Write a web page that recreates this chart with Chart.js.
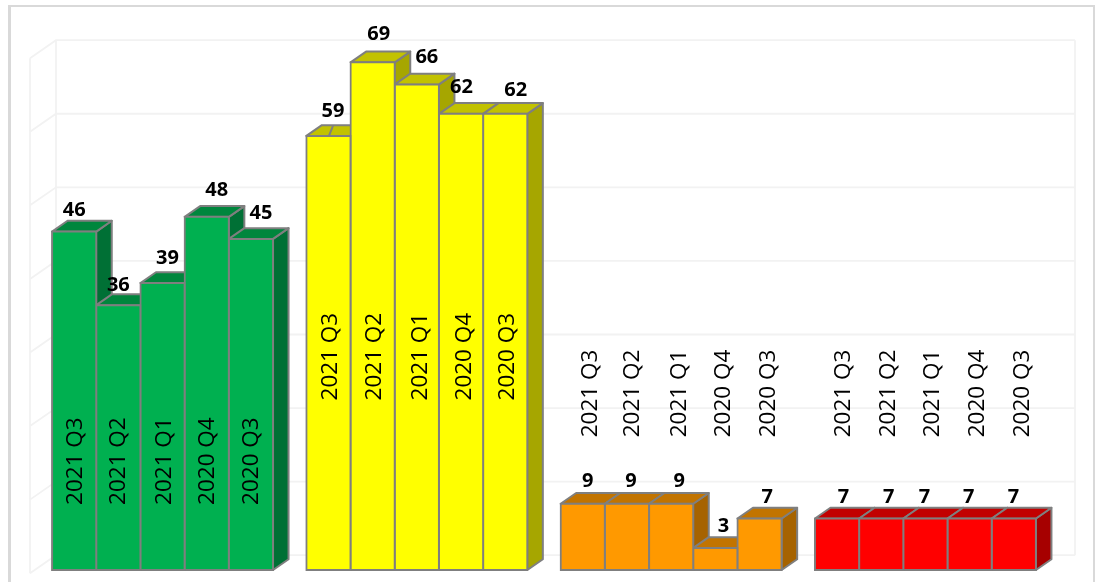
<!DOCTYPE html>
<html>
<head>
<meta charset="utf-8">
<style>
html,body{margin:0;padding:0;background:#fff;overflow:hidden;width:1104px;height:582px}
#frame{position:absolute;left:8px;top:5px;width:1082px;height:580px;border-left:3px solid #d9d9d9;border-top:2px solid #d9d9d9;border-right:2px solid #d9d9d9}
canvas{position:absolute;left:0;top:0}
</style>
<script src="https://cdn.jsdelivr.net/npm/chart.js@4/dist/chart.umd.min.js"></script>
</head>
<body>
<div id="frame"></div>
<canvas id="c" width="1104" height="582"></canvas>
<script>
const categories = ["Green", "Yellow", "Amber", "Red"];
const seriesNames = ["2021 Q3", "2021 Q2", "2021 Q1", "2020 Q4", "2020 Q3"];
const q3_2021 = [46, 59, 9, 7];
const q2_2021 = [36, 69, 9, 7];
const q1_2021 = [39, 66, 9, 7];
const q4_2020 = [48, 62, 3, 7];
const q3_2020 = [45, 62, 7, 7];
const seriesValues = [q3_2021, q2_2021, q1_2021, q4_2020, q3_2020];
const yTicks = [0, 10, 20, 30, 40, 50, 60, 70];

const frontColors = ["#00B050", "#FFFF00", "#FF9900", "#FF0000"];
const topColors   = ["#00863D", "#C2C200", "#C27400", "#C20000"];
const sideColors  = ["#007035", "#A6A600", "#A66300", "#A60000"];
const edgeColor = "#7F7F7F";
const gridColor = "#F2F2F2";

const depth = {dx: 15.5, dy: 10.8};
const wall = {left: 56, right: 1075, sideX: 30, sideDrop: 18};
const seriesLabelValue = [14.8, 29, 24, 24];
// label nudges [group][series]: horizontal shift, height above bar top
const valueNudge = [
  [[0,21],[0,20],[5,25],[10,27],[10,26]],
  [[4.5,25],[6,28],[10,27],[0.5,27],[10.5,24]],
  [[5,22],[4,22],[8,22],[8,22],[7.6,21]],
  [[6.5,21],[7.5,21],[-1,21],[-1,21],[-0.5,21]]
];
const seriesNudge = [
  [1,0.5,2.5,1,1],
  [2.5,2,4,3.5,2.5],
  [7.5,6,8.5,8,9],
  [6.5,7,7,8,8.5]
];

const box3d = {
  id: "box3d",
  beforeDatasetsDraw(chart) {
    const {ctx, scales: {y}} = chart;
    const backBase = y.getPixelForValue(0) - depth.dy - 4;
    ctx.save();
    // back wall and left wall grid
    ctx.strokeStyle = gridColor;
    ctx.lineWidth = 1.8;
    yTicks.forEach(v => {
      const py = y.getPixelForValue(v) - depth.dy - 4;
      ctx.beginPath();
      ctx.moveTo(wall.sideX, py + wall.sideDrop);
      ctx.lineTo(wall.left, py);
      ctx.lineTo(wall.right, py);
      ctx.stroke();
    });
    const top = y.getPixelForValue(70) - depth.dy - 4;
    ctx.beginPath();
    ctx.moveTo(wall.left, top); ctx.lineTo(wall.left, backBase);
    ctx.moveTo(wall.right, top); ctx.lineTo(wall.right, backBase);
    ctx.moveTo(wall.sideX, top + wall.sideDrop); ctx.lineTo(wall.sideX, backBase + wall.sideDrop);
    ctx.stroke();
    // tops and sides, painted left to right; fronts go on top of them
    ctx.strokeStyle = edgeColor;
    ctx.lineWidth = 2;
    ctx.lineJoin = "round";
    categories.forEach((_, g) => {
      seriesValues.forEach((_, s) => {
        const b = chart.getDatasetMeta(s).data[g];
        const l = b.x - b.width / 2, r = b.x + b.width / 2, t = b.y, base = b.base;
        ctx.fillStyle = sideColors[g];
        ctx.beginPath();
        ctx.moveTo(r, t); ctx.lineTo(r + depth.dx, t - depth.dy);
        ctx.lineTo(r + depth.dx, base - depth.dy); ctx.lineTo(r, base);
        ctx.closePath(); ctx.fill(); ctx.stroke();
        ctx.fillStyle = topColors[g];
        ctx.beginPath();
        ctx.moveTo(l, t); ctx.lineTo(l + depth.dx, t - depth.dy);
        ctx.lineTo(r + depth.dx, t - depth.dy); ctx.lineTo(r, t);
        ctx.closePath(); ctx.fill(); ctx.stroke();
      });
    });
    // leader line of the label "59"
    const lead = chart.getDatasetMeta(0).data[1];
    ctx.beginPath();
    ctx.moveTo(lead.x + 0.5, lead.y); ctx.lineTo(lead.x + 4.5, lead.y - 10);
    ctx.stroke();
    ctx.restore();
  },
  afterDatasetsDraw(chart) {
    const {ctx, scales: {y}} = chart;
    ctx.save();
    ctx.textAlign = "center";
    ctx.textBaseline = "middle";
    categories.forEach((_, g) => {
      seriesValues.forEach((vals, s) => {
        const b = chart.getDatasetMeta(s).data[g];
        ctx.fillStyle = "#000";
        ctx.font = "700 20px 'Open Sans'";
        ctx.fillText(String(vals[g]), b.x + valueNudge[g][s][0], b.y - valueNudge[g][s][1]);
        ctx.save();
        ctx.translate(b.x + seriesNudge[g][s], y.getPixelForValue(seriesLabelValue[g]));
        ctx.rotate(-Math.PI / 2);
        ctx.font = "400 22.5px 'Open Sans'";
        ctx.fillText(seriesNames[s], 0, 0);
        ctx.restore();
      });
    });
    ctx.restore();
  }
};

new Chart(document.getElementById("c"), {
  type: "bar",
  data: {
    labels: categories,
    datasets: seriesNames.map((name, s) => ({
      label: name,
      data: seriesValues[s],
      backgroundColor: frontColors,
      borderColor: edgeColor,
      borderWidth: 2,
      borderSkipped: false,
      inflateAmount: 1,
      clip: false,
      barPercentage: 1,
      categoryPercentage: 0.869
    }))
  },
  options: {
    responsive: false,
    animation: false,
    devicePixelRatio: 1,
    layout: {padding: {left: 35.4, right: 51.4, top: 55, bottom: 12}},
    plugins: {legend: {display: false}, tooltip: {enabled: false}, title: {display: false}},
    scales: {
      x: {display: false},
      y: {display: false, min: 0, max: 70, ticks: {stepSize: 10}}
    }
  },
  plugins: [box3d]
});
</script>
</body>
</html>
